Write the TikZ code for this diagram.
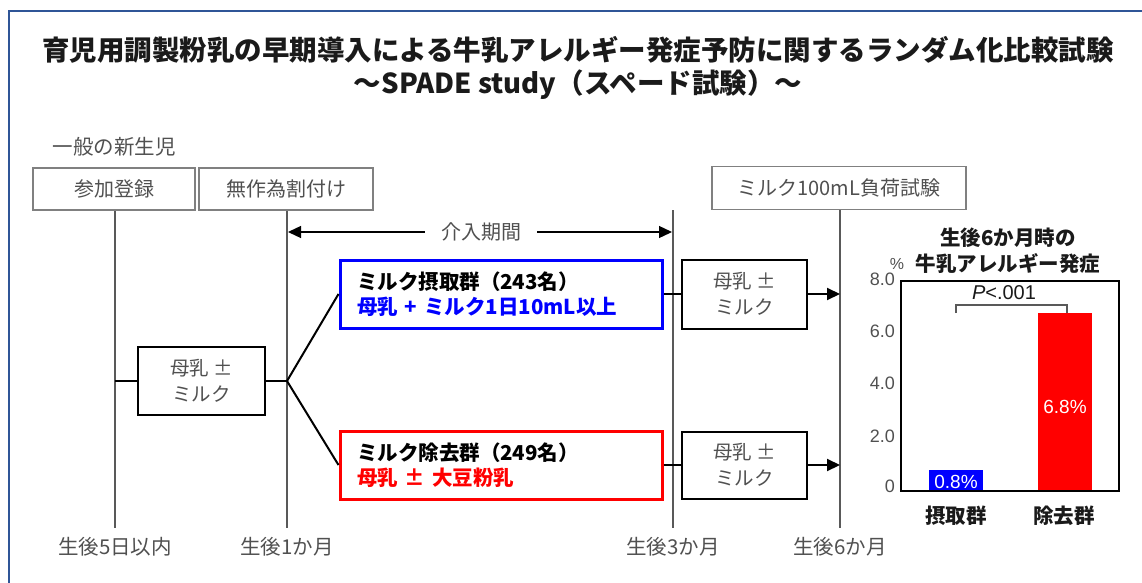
\documentclass[tikz,border=0pt]{standalone}
\usepackage{fontspec}
\setmainfont{Noto Sans CJK JP}
\newfontfamily\arial{Liberation Sans}
\usetikzlibrary{arrows.meta}
\definecolor{frameblue}{HTML}{2F5597}
\definecolor{txtgray}{HTML}{505050}
\definecolor{boxgray}{HTML}{808080}
\definecolor{linegray}{HTML}{595959}
\definecolor{titleblack}{HTML}{1A1A1A}
\definecolor{myblue}{HTML}{0000FF}
\definecolor{myred}{HTML}{FF0000}
\begin{document}
\begin{tikzpicture}[x=1pt,y=-1pt,
  gtext/.style={text=txtgray, font=\fontsize{20}{24}\selectfont, inner sep=0pt},
  graybox/.style={gtext, draw=boxgray, line width=1.8pt},
  mixbox/.style={draw=black, line width=2pt, text=txtgray, font=\fontsize{19.5}{26}\selectfont, align=center, inner sep=0pt},
  grpbox/.style={line width=3pt, font=\bfseries\fontsize{20.5}{25}\selectfont, align=left, text width=288pt, inner xsep=17pt, inner ysep=0pt, minimum width=322pt, minimum height=68pt},
  tline/.style={draw=linegray, line width=1.3pt},
  conn/.style={draw=black, line width=2pt},
  arr/.style={conn, -{Triangle[length=13pt,width=12pt]}},
  timelabel/.style={gtext, font=\fontsize{20.5}{22}\selectfont},
  ticklab/.style={text=txtgray, font=\arial\fontsize{18}{20}\selectfont, inner sep=0pt, anchor=east},
  barlab/.style={text=white, font=\arial\fontsize{19}{20}\selectfont, inner sep=0pt},
  chtitle/.style={text=titleblack, font=\bfseries\fontsize{20.5}{26}\selectfont, align=center, inner sep=0pt},
]
\useasboundingbox (0,0) rectangle (1142,583);
% frame
\draw[frameblue, line width=2.5pt] (9,583) -- (9,11) -- (1142,11);

% title
\node[text=titleblack, font=\bfseries\fontsize{27.5}{34}\selectfont, inner sep=0pt] (title1) at (578,50) {育児用調製粉乳の早期導入による牛乳アレルギー発症予防に関するランダム化比較試験};
\node[text=titleblack, font=\bfseries\fontsize{27.5}{34}\selectfont, inner sep=0pt] (title2) at (578,85) {～SPADE study（スペード試験）～};

% top labels and boxes
\node[gtext, font=\fontsize{20.5}{24}\selectfont] (newborn) at (114,147) {一般の新生児};
\node[graybox, minimum width=162pt, minimum height=42pt] (reg) at (114,189) {参加登録};
\node[graybox, minimum width=174pt, minimum height=42pt] (rand) at (286,189) {無作為割付け};
\node[graybox, minimum width=254pt, minimum height=43pt] (test) at (839,188) {ミルク100mL負荷試験};

% timeline coordinates
\coordinate (t0b) at (115,528);
\coordinate (t1b) at (287,528);
\coordinate (t3t) at (673,210);
\coordinate (t3b) at (673,528);
\coordinate (t6b) at (840,528);
\draw[tline] (reg.south -| t0b) -- (t0b);
\draw[tline] (rand.south -| t1b) -- (t1b);
\draw[tline] (t3t) -- (t3b);
\draw[tline] (test.south -| t6b) -- (t6b);

% time labels
\node[timelabel] (l0) at (115,547) {生後5日以内};
\node[timelabel] (l1) at (287,547) {生後1か月};
\node[timelabel] (l3) at (673,547) {生後3か月};
\node[timelabel] (l6) at (840,547) {生後6か月};

% intervention period
\coordinate (i1) at (288,232);
\coordinate (i3) at (672,232);
\draw[draw=black, line width=1.3pt, {Triangle[length=13pt,width=12pt]}-{Triangle[length=13pt,width=12pt]}] (i1) -- (i3);
\node[gtext, fill=white, inner xsep=16pt, inner ysep=2pt] (period) at (481,232) {介入期間};

% boxes
\node[mixbox, minimum width=127pt, minimum height=68pt] (mix0) at (201.5,381) {母乳 ±\\ミルク};
\node[grpbox, draw=myblue] (blue) at (501,294) {ミルク摂取群（243名）\\\textcolor{myblue}{母乳 + ミルク1日10mL以上}};
\node[grpbox, draw=myred] (red) at (501,465) {ミルク除去群（249名）\\\textcolor{myred}{母乳 ± 大豆粉乳}};
\node[mixbox, minimum width=125pt, minimum height=69pt] (mix1) at (744.5,294) {母乳 ±\\ミルク};
\node[mixbox, minimum width=125pt, minimum height=67pt] (mix2) at (744.5,465) {母乳 ±\\ミルク};

% connectors
\coordinate (br) at (287,381);
\draw[conn] (mix0.west -| t0b) -- (mix0.west);
\draw[conn] (mix0.east) -- (br);
\draw[conn] (br) -- (blue.west);
\draw[conn] (br) -- (red.west);
\draw[conn] (blue.east) -- (mix1.west);
\draw[conn] (red.east) -- (mix2.west);
\draw[arr] (mix1.east) -- (mix1.east -| t6b);
\draw[arr] (mix2.east) -- (mix2.east -| t6b);

% chart
\node[chtitle] (ct) at (1008,251) {生後6か月時の\\牛乳アレルギー発症};
\node[text=txtgray, font=\arial\fontsize{16}{18}\selectfont, inner sep=0pt] (pct) at (897,264) {\%};
\fill[myblue] (929,470) rectangle (983,491);
\fill[myred] (1038,312.5) rectangle (1092,491);
\draw[black, line width=2pt] (901,281) rectangle (1119,491);
\node[ticklab] (y8) at (895,279) {8.0};
\node[ticklab] (y6) at (895,331) {6.0};
\node[ticklab] (y4) at (895,383.5) {4.0};
\node[ticklab] (y2) at (895,436) {2.0};
\node[ticklab] (y0) at (895,486) {0};
\node[barlab] (b1) at (956,482) {0.8\%};
\node[barlab] (b2) at (1065,407) {6.8\%};
\draw[linegray, line width=1.3pt] (956,313) -- (956,305) -- (1067,305) -- (1067,313);
\node[text=titleblack, font=\arial\fontsize{20}{20}\selectfont, inner sep=0pt] (pv) at (1004,293) {\textit{P}<.001};
\node[chtitle] (x1) at (956,516) {摂取群};
\node[chtitle] (x2) at (1064,516) {除去群};
\end{tikzpicture}
\end{document}
